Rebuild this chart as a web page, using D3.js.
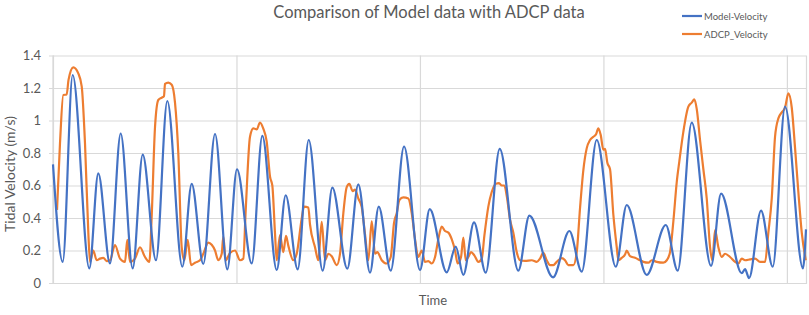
<!DOCTYPE html>
<html><head><meta charset="utf-8">
<script src="https://cdn.jsdelivr.net/npm/d3@7"></script>
<style>
html,body{margin:0;padding:0;background:#fff;}
svg{display:block;font-family:Lato,"Open Sans",sans-serif;}
</style></head>
<body><svg id="c" width="809" height="315"></svg>
<script>
// ---- data (time in hours, velocity in m/s) ----
const chartTitle = "Comparison of Model data with ADCP data";
const seriesNames = ["Model-Velocity", "ADCP_Velocity"];
const yTickValues = [0, 0.2, 0.4, 0.6, 0.8, 1.0, 1.2, 1.4];
const yTickLabels = ["0", "0.2", "0.4", "0.6", "0.8", "1", "1.2", "1.4"];
const xGridHours = [48, 96, 144, 192];
const xTitle = "Time";
const yTitle = "Tidal Velocity (m/s)";

const modelTime = [0,2.54,5.15,9.50,11.85,14.91,17.71,20.85,23.47,26.95,29.91,33.83,36.29,39.32,42.39,45.60,48.14,51.99,54.76,58.53,60.88,64.02,66.90,70.56,73.08,77.00,79.88,82.94,85.22,88.36,91.84,96.02,98.56,103.01,105.36,107.35,110.15,113.21,116.87,121.74,124.62,130.82,135.09,138.33,142.25,147.23,150.10,155.33,160.31,163.44,167.11,172.16,174.78,180.19,181.05,182.10,185.24,188.30,191.52,196.2,197.0];
const modelVel = [0.73,0.13,1.28,0.09,0.675,0.12,0.92,0.09,0.79,0.14,1.12,0.10,0.61,0.117,0.917,0.084,0.70,0.12,0.905,0.08,0.54,0.084,0.88,0.076,0.587,0.088,0.607,0.064,0.47,0.076,0.84,0.08,0.455,0.066,0.224,0.05,0.373,0.064,0.825,0.076,0.415,0.035,0.32,0.07,0.88,0.10,0.48,0.05,0.357,0.076,0.987,0.105,0.55,0.06,0.085,0.03,0.445,0.10,1.085,0.09,0.33];

const adcpTime = [1.05,1.83,2.69,3.58,4.06,5.31,6.62,7.51,8.37,9.24,9.68,10.54,11.43,12.30,13.16,14.05,14.91,16.22,17.53,18.84,19.44,20.15,21.45,22.76,24.07,25.20,25.82,26.69,27.55,28.44,29.04,29.30,30.17,31.06,31.92,32.78,33.67,34.35,35.24,36.11,37.15,38.46,39.32,40.63,41.52,42.39,43.25,44.14,44.56,45.19,46.31,47.62,48.93,49.79,50.42,51.54,52.41,53.30,54.16,55.02,55.91,56.78,57.38,58.08,58.53,59.39,60.26,60.96,61.56,62.87,63.76,65.07,65.67,66.80,67.24,68.55,69.41,70.30,71.17,72.03,72.92,74.23,75.09,75.96,76.84,77.52,78.41,79.02,79.88,80.77,81.63,82.50,83.38,84.25,84.85,86.00,87.31,88.36,89.22,89.93,90.61,91.65,92.96,93.85,94.71,95.58,96.47,97.33,98.19,99.08,99.95,100.81,101.70,102.56,103.43,104.31,105.18,105.89,106.75,107.35,107.98,108.66,109.37,110.23,111.28,112.17,112.85,113.89,114.78,115.83,116.69,117.40,118.08,118.71,119.57,120.43,121.32,122.19,123.49,125.25,126.56,127.42,128.28,129.17,130.04,130.90,131.79,133.10,133.96,134.82,136.13,137.02,137.88,138.75,139.64,140.50,141.37,142.07,142.67,143.30,143.98,144.43,145.03,145.73,146.60,147.49,147.91,148.80,149.66,150.10,150.97,152.27,153.58,154.45,155.76,156.64,157.95,159.68,160.57,161.43,162.30,163.18,163.87,164.91,166.22,167.11,167.79,168.42,169.28,170.15,171.03,171.90,172.50,173.21,174.07,174.96,175.82,177.13,178.44,179.30,180.19,181.05,182.36,183.67,184.98,186.29,187.15,188.04,188.90,189.77,190.66,191.52,192.39,193.27,194.14,195.00,195.89,196.94];
const adcpVel = [0.45,0.86,1.157,1.16,1.25,1.327,1.29,1.21,0.86,0.31,0.13,0.20,0.14,0.15,0.155,0.135,0.14,0.234,0.15,0.13,0.265,0.13,0.15,0.22,0.16,0.13,0.41,0.96,1.126,1.14,1.15,1.225,1.233,1.22,1.11,0.80,0.22,0.14,0.265,0.11,0.125,0.14,0.18,0.248,0.235,0.20,0.14,0.18,0.285,0.14,0.185,0.20,0.14,0.15,0.45,0.90,0.952,0.945,0.987,0.95,0.87,0.654,0.60,0.305,0.14,0.295,0.19,0.29,0.23,0.14,0.18,0.398,0.47,0.465,0.36,0.22,0.14,0.377,0.14,0.18,0.165,0.11,0.18,0.43,0.59,0.61,0.565,0.575,0.52,0.467,0.30,0.14,0.38,0.18,0.19,0.14,0.12,0.16,0.37,0.43,0.51,0.527,0.52,0.43,0.27,0.16,0.20,0.13,0.135,0.12,0.16,0.27,0.347,0.32,0.31,0.27,0.20,0.12,0.16,0.28,0.14,0.16,0.19,0.17,0.13,0.15,0.29,0.47,0.56,0.61,0.615,0.60,0.60,0.535,0.39,0.31,0.19,0.14,0.136,0.14,0.13,0.15,0.185,0.14,0.11,0.11,0.13,0.153,0.14,0.11,0.11,0.19,0.46,0.695,0.83,0.88,0.90,0.915,0.952,0.91,0.82,0.825,0.74,0.70,0.42,0.22,0.14,0.155,0.175,0.20,0.165,0.155,0.14,0.13,0.125,0.14,0.13,0.125,0.14,0.19,0.38,0.62,0.75,0.93,1.085,1.11,1.13,1.07,0.88,0.70,0.52,0.22,0.14,0.326,0.22,0.16,0.18,0.16,0.13,0.12,0.15,0.14,0.145,0.15,0.13,0.13,0.31,0.52,0.90,1.013,1.05,1.08,1.167,1.08,0.83,0.56,0.31,0.14];

const seriesColors = ["#4472C4", "#ED7D31"];
// ---- drawing ----
const svg = d3.select("#c");
const m = {left: 53, right: 3, top: 55.5, bottom: 32};
const W = 809, H = 315;
const x = d3.scaleLinear().domain([0, 197]).range([m.left, W - m.right]);
const y = d3.scaleLinear().domain([0, 1.4]).range([H - m.bottom, m.top]);
const textCol = "#595959", gridCol = "#D9D9D9";

// horizontal gridlines + y axis
const yAxis = d3.axisLeft(y).tickValues(yTickValues)
  .tickFormat((d, i) => yTickLabels[i])
  .tickSize(-(x.range()[1] - x.range()[0])).tickPadding(12);
const gy = svg.append("g").attr("transform", `translate(${m.left},0)`).call(yAxis);
gy.select(".domain").remove();
gy.selectAll(".tick line").attr("stroke", gridCol).attr("stroke-width", 1.2).attr("x1", -4);
gy.selectAll(".tick text").attr("fill", textCol).style("font-size", "13px").style("font-family", "Lato");

// vertical gridlines
const xAxis = d3.axisBottom(x).tickValues(xGridHours).tickFormat("").tickSize(-(y.range()[0] - y.range()[1]));
const gx = svg.append("g").attr("transform", `translate(0,${y(0)})`).call(xAxis);
gx.select(".domain").attr("stroke", gridCol).attr("stroke-width", 1.2);
gx.selectAll(".tick line").attr("stroke", gridCol).attr("stroke-width", 1.2);
// left axis line
svg.append("line").attr("x1", m.left).attr("x2", m.left).attr("y1", y(1.4)).attr("y2", y(0))
  .attr("stroke", gridCol).attr("stroke-width", 1.2);

const model = modelTime.map((t, i) => [t, modelVel[i]]);
const adcp = adcpTime.map((t, i) => [t, adcpVel[i]]);
const lineM = d3.line().x(d => x(d[0])).y(d => y(d[1])).curve(d3.curveMonotoneX);
const lineA = d3.line().x(d => x(d[0])).y(d => y(d[1])).curve(d3.curveMonotoneX);

svg.append("path").datum(adcp).attr("d", lineA).attr("fill", "none")
  .attr("stroke", seriesColors[1]).attr("stroke-width", 2.2).attr("stroke-linejoin", "round");
svg.append("path").datum(model).attr("d", lineM).attr("fill", "none")
  .attr("stroke", seriesColors[0]).attr("stroke-width", 2.2).attr("stroke-linejoin", "round");

// title
svg.append("text").attr("x", 429).attr("y", 18).attr("text-anchor", "middle")
  .attr("fill", textCol).style("font-size", "16.5px").text(chartTitle);
// axis titles
svg.append("text").attr("x", 433).attr("y", 305).attr("text-anchor", "middle")
  .attr("fill", textCol).style("font-size", "13px").text(xTitle);
svg.append("text").attr("transform", "translate(15,174) rotate(-90)").attr("text-anchor", "middle")
  .attr("fill", textCol).style("font-size", "14px").text(yTitle);

// legend
const lg = svg.append("g");
seriesNames.forEach((n, i) => {
  const yy = 16 + i * 18;
  lg.append("line").attr("x1", 682).attr("x2", 702).attr("y1", yy).attr("y2", yy)
    .attr("stroke", seriesColors[i]).attr("stroke-width", 2.2);
  lg.append("text").attr("x", 704).attr("y", yy + 3.5).attr("fill", textCol)
    .style("font-size", "9.5px").text(n);
});
</script></body></html>
